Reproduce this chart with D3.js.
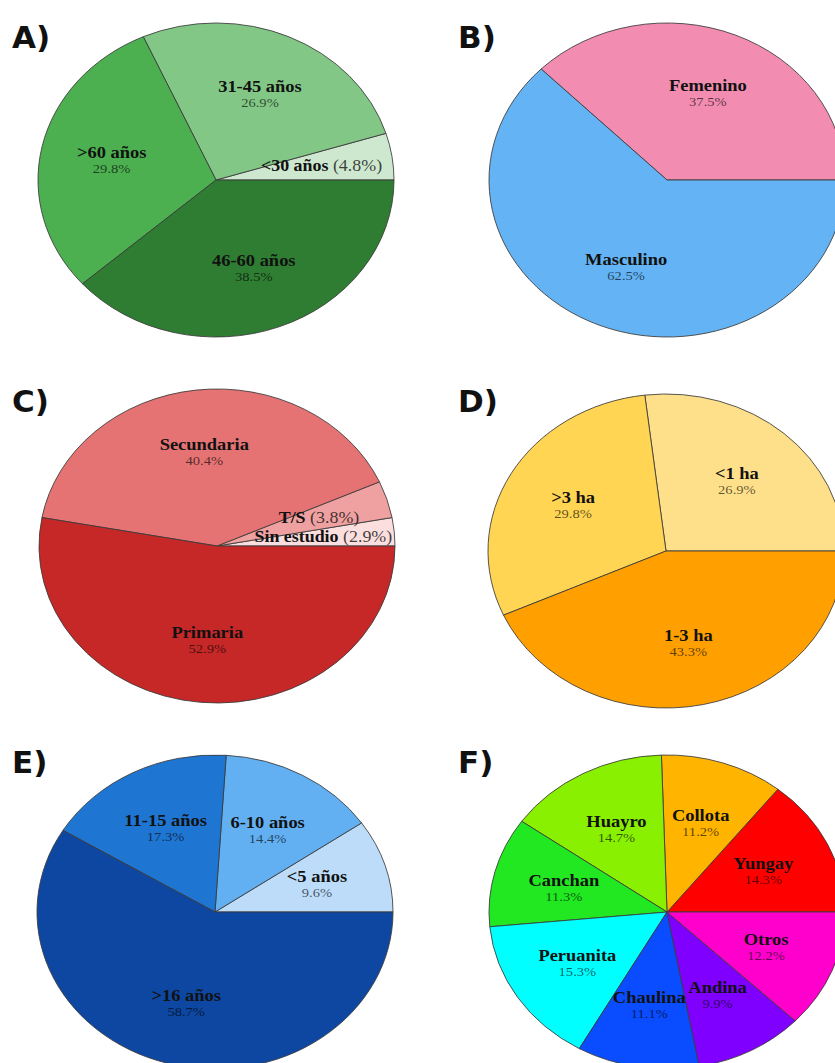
<!DOCTYPE html>
<html><head><meta charset="utf-8">
<script src="https://cdn.jsdelivr.net/npm/d3@7"></script>
<style>body{margin:0;background:#fff}svg{display:block}</style>
</head><body>
<script>
// ---- data ----
const ageLabels = ["<30 años", "31-45 años", ">60 años", "46-60 años"];
const ageValues = [4.8, 26.9, 29.8, 38.5];
const ageColors = ["#cde8cf", "#82c785", "#4caf50", "#2e7d32"];

const sexLabels = ["Femenino", "Masculino"];
const sexValues = [37.5, 62.5];
const sexColors = ["#f28db1", "#64b3f4"];

const eduLabels = ["Sin estudio", "T/S", "Secundaria", "Primaria"];
const eduValues = [2.9, 3.8, 40.4, 52.9];
const eduColors = ["#fbdede", "#efa0a0", "#e57373", "#c62828"];

const landLabels = ["<1 ha", ">3 ha", "1-3 ha"];
const landValues = [26.9, 29.8, 43.3];
const landColors = ["#ffe08a", "#ffd553", "#ffa000"];

const expLabels = ["<5 años", "6-10 años", "11-15 años", ">16 años"];
const expValues = [9.6, 14.4, 17.3, 58.7];
const expColors = ["#bcdcfa", "#62b0f2", "#1f76d2", "#0d47a1"];

const varLabels = ["Yungay", "Collota", "Huayro", "Canchan", "Peruanita", "Chaulina", "Andina", "Otros"];
const varValues = [14.3, 11.2, 14.7, 11.3, 15.3, 11.1, 9.9, 12.2];
const varColors = ["#ff0000", "#ffb400", "#88f000", "#22e822", "#00ffff", "#0a4cff", "#7f00ff", "#ff00cc"];

const panelLetters = ["A)", "B)", "C)", "D)", "E)", "F)"];

// ---- layout ----
const W = 835, H = 1063;
const R = 157, RX = 178;
const centers = [[216, 180], [667, 180], [217, 546], [666, 551], [215, 912], [667, 912]];
const letterX = [12, 458];
const letterY = [48, 412, 773];

const panels = [
  {labels: ageLabels, values: ageValues, colors: ageColors},
  {labels: sexLabels, values: sexValues, colors: sexColors},
  {labels: eduLabels, values: eduValues, colors: eduColors},
  {labels: landLabels, values: landValues, colors: landColors},
  {labels: expLabels, values: expValues, colors: expColors},
  {labels: varLabels, values: varValues, colors: varColors}
];

const svg = d3.select("body").append("svg").attr("width", W).attr("height", H);

const pie = d3.pie().sort(null).value(d => d.v)
  .startAngle(Math.PI / 2).endAngle(Math.PI / 2 - 2 * Math.PI);
const arc = d3.arc().innerRadius(0).outerRadius(R);
const labelArc = d3.arc().innerRadius(R * 0.6).outerRadius(R * 0.6);
const sx = RX / R;

panels.forEach((p, i) => {
  const [cx, cy] = centers[i];
  const data = p.labels.map((l, j) => ({l, v: p.values[j], c: p.colors[j]}));
  const arcs = pie(data);

  const g = svg.append("g").attr("transform", `translate(${cx},${cy}) scale(${sx},1)`);
  g.selectAll("path").data(arcs).join("path")
    .attr("d", arc)
    .attr("fill", d => d.data.c)
    .attr("stroke", "#3a3a3a")
    .attr("stroke-opacity", 0.85)
    .attr("stroke-width", 1)
    .attr("vector-effect", "non-scaling-stroke");

  const lg = svg.append("g").attr("transform", `translate(${cx},${cy})`);
  arcs.forEach(d => {
    const [x, y] = labelArc.centroid(d);
    const t = lg.append("g").attr("transform", `translate(${x * sx},${y}) scale(1.12,1)`);
    const txt = t.append("text").attr("text-anchor", "middle")
      .attr("font-family", "'Liberation Serif','Times New Roman',serif");
    if (d.data.v < 5) {
      txt.attr("y", 5);
      txt.append("tspan").attr("font-weight", "bold").attr("font-size", 16).attr("fill", "#111").text(d.data.l + " ");
      txt.append("tspan").attr("font-size", 16).attr("fill", "#111").attr("fill-opacity", 0.8).text(`(${d.data.v.toFixed(1)}%)`);
    } else {
      txt.append("tspan").attr("x", 0).attr("y", -2).attr("font-weight", "bold").attr("font-size", 16.5)
        .attr("fill", "#111").text(d.data.l);
      txt.append("tspan").attr("x", 0).attr("y", 13).attr("font-size", 13)
        .attr("fill", "#000").attr("fill-opacity", 0.65).text(d.data.v.toFixed(1) + "%");
    }
  });

  svg.append("text")
    .attr("x", letterX[i % 2]).attr("y", letterY[Math.floor(i / 2)])
    .attr("font-family", "'DejaVu Sans',sans-serif").attr("font-weight", "bold")
    .attr("font-size", 31).attr("fill", "#111").text(panelLetters[i]);
});
</script>
</body></html>
